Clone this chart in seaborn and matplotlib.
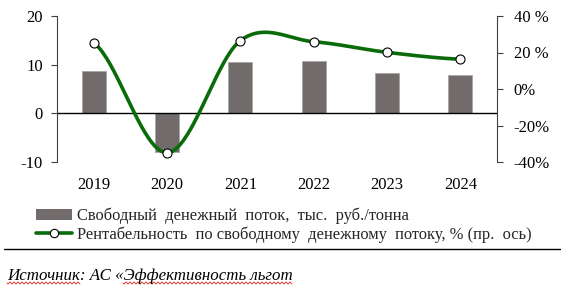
import numpy as np
import pandas as pd
import matplotlib
matplotlib.use("Agg")
import matplotlib.pyplot as plt
import seaborn as sns
from matplotlib.patches import Patch
from matplotlib.lines import Line2D

# ---- data ----
years = ["2019", "2020", "2021", "2022", "2023", "2024"]
fcf = [8.6, -8.0, 10.5, 10.7, 8.3, 7.8]            # тыс. руб./тонна
margin = [25.4, -34.9, 26.5, 25.9, 20.1, 16.3]     # %
left_ticks = [-10, 0, 10, 20]
right_ticks = [-40, -20, 0, 20, 40]
right_labels = ["-40%", "-20%", "0%", "20 %", "40 %"]
bar_label = "Свободный  денежный  поток,  тыс.  руб./тонна"
line_label = "Рентабельность  по свободному  денежному  потоку, % (пр.  ось)"
source = "Источник: АС «Эффективность льгот"

bar_color = "#716c6b"
green = "#0a6b0a"


def catmull_rom(y, n=40):
    """Uniform Catmull-Rom smoothing (like Excel's smoothed line)."""
    y = np.asarray(y, float)
    p = np.concatenate([[y[0]], y, [y[-1]]])
    xs, ys = [], []
    for i in range(len(y) - 1):
        p0, p1, p2, p3 = p[i], p[i + 1], p[i + 2], p[i + 3]
        m1 = (p2 - p0) / 2.0
        m2 = (p3 - p1) / 2.0
        t = np.linspace(0, 1, n, endpoint=(i == len(y) - 2))
        h00 = 2 * t**3 - 3 * t**2 + 1
        h10 = t**3 - 2 * t**2 + t
        h01 = -2 * t**3 + 3 * t**2
        h11 = t**3 - t**2
        xs.append(i + t)
        ys.append(h00 * p1 + h10 * m1 + h01 * p2 + h11 * m2)
    return np.concatenate(xs), np.concatenate(ys)


sns.set_theme(style="white")
plt.rcParams["font.family"] = ["Liberation Serif", "DejaVu Serif"]

W, H = 561, 292
fig = plt.figure(figsize=(W / 100, H / 100), dpi=100)
fig.patch.set_facecolor("white")
ax = fig.add_axes([57 / W, 1 - 162 / H, 440 / W, 146 / H])

df = pd.DataFrame({"year": years, "fcf": fcf})
sns.barplot(data=df, x="year", y="fcf", color=bar_color, saturation=1,
            width=0.33, ax=ax, edgecolor="#a9a5a4", linewidth=0.6)
ax.set_xlim(-0.5, 5.5)
ax.set_ylim(-10, 20)
ax.set_yticks(left_ticks)
ax.set_yticklabels([str(v) for v in left_ticks])
ax.axhline(0, color="black", lw=1.0, zorder=1)
ax.set_xlabel("")
ax.set_ylabel("")
for s in ["top", "bottom", "right"]:
    ax.spines[s].set_visible(False)
ax.spines["left"].set_color("#404040")
ax.spines["left"].set_linewidth(0.8)
ax.tick_params(axis="x", length=0, pad=11, labelsize=12, colors="black")
ax.tick_params(axis="y", left=True, length=4, width=0.8, direction="out",
               pad=6, labelsize=12, colors="#404040", labelcolor="black")

ax2 = ax.twinx()
xs, ys = catmull_rom(margin)
sns.lineplot(x=xs, y=ys, ax=ax2, color=green, lw=2.6, sort=False,
             estimator=None)
ax2.plot(range(len(margin)), margin, "o", mfc="white", mec="black",
         mew=0.8, ms=6.5, zorder=5)
ax2.set_ylim(-40, 40)
ax2.set_yticks(right_ticks)
ax2.set_yticklabels(right_labels)
ax2.set_ylabel("")
for s in ["top", "bottom", "left"]:
    ax2.spines[s].set_visible(False)
ax2.spines["right"].set_color("#404040")
ax2.spines["right"].set_linewidth(0.8)
ax2.tick_params(axis="y", right=True, length=4, width=0.8, direction="out",
                pad=8, labelsize=12, colors="#404040", labelcolor="black")

handles = [Patch(facecolor=bar_color, edgecolor="none"),
           Line2D([0], [0], color=green, lw=2.6, marker="o", mfc="white",
                  mec="black", mew=0.8, ms=6)]
fig.legend(handles, [bar_label, line_label], loc="upper left",
           bbox_to_anchor=(36 / W, 1 - 208 / H), frameon=False,
           fontsize=11.9, handlelength=2.2, handleheight=0.6,
           handletextpad=0.3, labelspacing=0.12, borderaxespad=0,
           borderpad=0)

fig.add_artist(Line2D([4 / W, 1.0], [1 - 249 / H, 1 - 249 / H],
                      color="black", lw=1.0))
fig.text(7 / W, 1 - 276 / H, source, style="italic", fontsize=12.2,
         va="center", ha="left", color="black")

# spell-check style red wavy underline, as in the source document
for x0, x1 in [(7, 80), (123, 292)]:
    px = np.arange(x0, x1 + 0.5, 0.5)
    py = 283 + 1.0 * np.sin((px - x0) * np.pi / 2.0)
    fig.add_artist(Line2D(px / W, 1 - py / H, color="#e02020", lw=0.6))

fig.savefig("out.png", dpi=100, facecolor="white")
